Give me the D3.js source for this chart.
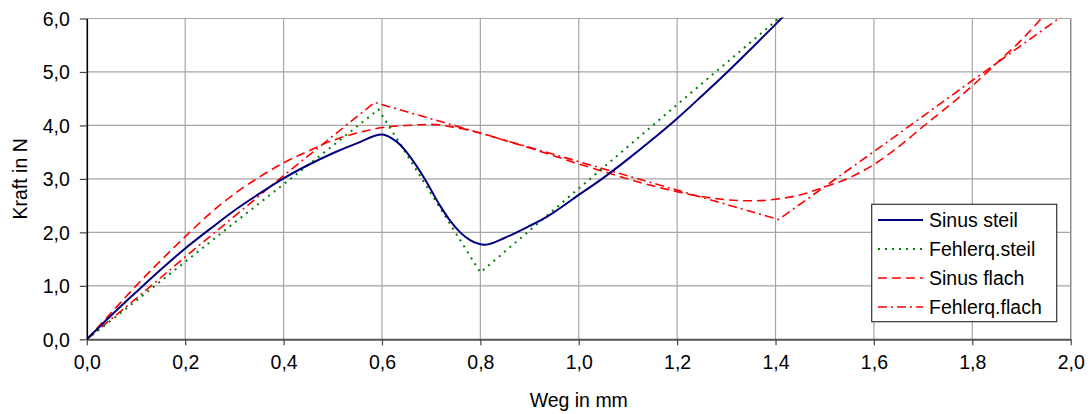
<!DOCTYPE html>
<html><head><meta charset="utf-8">
<script src="https://cdn.jsdelivr.net/npm/d3@7"></script>
<style>body{margin:0;background:#fff}svg{display:block}text{font-family:"Liberation Sans",Arial,sans-serif}</style>
</head><body>
<svg id="c" width="1090" height="414"></svg>
<script>
const xTicks = [0,0.2,0.4,0.6,0.8,1.0,1.2,1.4,1.6,1.8,2.0];
const yTicks = [0,1,2,3,4,5,6];
const seriesNames = ["Sinus steil","Fehlerq.steil","Sinus flach","Fehlerq.flach"];

const sinusSteilX = [0,0.05,0.1,0.15,0.2,0.25,0.3,0.35,0.4,0.45,0.5,0.55,0.6,0.62,0.637,0.65,0.687,0.718,0.74,0.759,0.78,0.81,0.85,0.9,0.935,1.0,1.05,1.1,1.15,1.2,1.25,1.3,1.35,1.4,1.45];
const sinusSteilY = [0,0.45,0.88,1.3,1.7,2.06,2.41,2.72,3.01,3.26,3.48,3.67,3.83,3.76,3.64,3.5,3.0,2.5,2.2,2.0,1.85,1.77,1.9,2.12,2.29,2.7,3.02,3.37,3.74,4.13,4.55,4.98,5.43,5.89,6.36];

const fehlerSteilX = [0,0.1,0.2,0.3,0.4,0.5,0.593,0.8,1.0,1.2,1.4,1.45];
const fehlerSteilY = [0,0.72,1.45,2.18,2.9,3.62,4.3,1.25,2.82,4.39,5.95,6.35];

const sinusFlachX = [0,0.05,0.1,0.15,0.2,0.25,0.3,0.35,0.4,0.45,0.5,0.55,0.6,0.65,0.7,0.75,0.8,0.85,0.9,0.95,1.0,1.05,1.1,1.15,1.2,1.25,1.3,1.35,1.4,1.45,1.5,1.55,1.6,1.65,1.7,1.75,1.8,1.85,1.9,1.95,2.0];
const sinusFlachY = [0,0.5,1.0,1.47,1.92,2.35,2.72,3.03,3.3,3.52,3.72,3.86,3.96,4.0,4.02,3.96,3.86,3.72,3.58,3.43,3.28,3.14,3.0,2.87,2.76,2.67,2.61,2.59,2.62,2.7,2.85,3.02,3.27,3.6,3.98,4.35,4.74,5.17,5.6,6.1,6.6];

const fehlerFlachX = [0,0.1,0.2,0.3,0.4,0.5,0.585,1.406,1.6,1.8,2.0];
const fehlerFlachY = [0,0.76,1.54,2.3,3.06,3.8,4.43,2.24,3.51,4.84,6.16];

const svg = d3.select("#c");
const L = 86.8, R = 1070.7, T = 18.5, B = 339.3;
const x = d3.scaleLinear().domain([0,2]).range([L,R]);
const y = d3.scaleLinear().domain([0,6]).range([B,T]);
const fmt = d => d3.format(".1f")(d).replace(".", ",");

// grid
const g = svg.append("g");
g.selectAll(".vg").data(xTicks.slice(1)).join("line")
  .attr("x1",d=>x(d)).attr("x2",d=>x(d)).attr("y1",T).attr("y2",B)
  .attr("stroke","#a6a6a6").attr("stroke-width",1.2);
g.selectAll(".hg").data(yTicks.slice(1)).join("line")
  .attr("x1",L).attr("x2",R).attr("y1",d=>y(d)).attr("y2",d=>y(d))
  .attr("stroke","#a6a6a6").attr("stroke-width",1.2);
g.append("line").attr("x1",R).attr("x2",R).attr("y1",T).attr("y2",B).attr("stroke","#888").attr("stroke-width",1.2);

svg.append("clipPath").attr("id","clip").append("rect").attr("x",L).attr("y",T-1).attr("width",R-L+1).attr("height",B-T+1);

const line = d3.line().x(d=>x(d[0])).y(d=>y(d[1]));
const lineSmooth = d3.line().x(d=>x(d[0])).y(d=>y(d[1])).curve(d3.curveMonotoneX);
const zip = (a,b) => a.map((v,i)=>[v,b[i]]);

const styles = [
  {stroke:"#000080", dash:null, w:2, gen:lineSmooth, data:zip(sinusSteilX,sinusSteilY)},
  {stroke:"#008000", dash:"2,5", w:2, gen:line, data:zip(fehlerSteilX,fehlerSteilY)},
  {stroke:"#ff0000", dash:"9,5", w:1.6, gen:lineSmooth, data:zip(sinusFlachX,sinusFlachY)},
  {stroke:"#ff0000", dash:"9,4,2,4", w:1.6, gen:line, data:zip(fehlerFlachX,fehlerFlachY)}
];
const pg = svg.append("g").attr("clip-path","url(#clip)");
[3,2,1,0].forEach(i=>{
  const s = styles[i];
  pg.append("path").attr("d", s.gen(s.data)).attr("fill","none")
    .attr("stroke",s.stroke).attr("stroke-width",s.w)
    .attr("stroke-dasharray",s.dash);
});

const xAxis = d3.axisBottom(x).tickValues(xTicks).tickFormat(fmt).tickSize(6).tickSizeOuter(0).tickPadding(10);
const yAxis = d3.axisLeft(y).tickValues(yTicks).tickFormat(fmt).tickSize(7).tickSizeOuter(0).tickPadding(10);
const xa = svg.append("g").attr("transform",`translate(0,${B})`).call(xAxis);
const ya = svg.append("g").attr("transform",`translate(${L},0)`).call(yAxis);
[xa,ya].forEach(a=>{
  a.selectAll("text").attr("font-size",19.5).attr("fill","#000").attr("font-family","Liberation Sans, Arial, sans-serif");
  a.select(".domain").attr("stroke","#000").attr("stroke-width",1.6);
  a.selectAll(".tick line").attr("stroke","#444").attr("stroke-width",1.2);
});
xa.select(".domain").attr("stroke","#555").attr("stroke-width",2);
ya.selectAll("text").attr("dy","0.36em");

svg.append("text").attr("x",(L+R)/2).attr("y",407).attr("text-anchor","middle")
  .attr("font-size",19.5).text("Weg in mm");
svg.append("text").attr("transform",`translate(27,${(T+B)/2}) rotate(-90)`).attr("text-anchor","middle")
  .attr("font-size",19.5).text("Kraft in N");

const lg = svg.append("g");
lg.append("rect").attr("x",871.7).attr("y",204.3).attr("width",185).attr("height",117.4)
  .attr("fill","#fff").attr("stroke","#333").attr("stroke-width",1.2);
seriesNames.forEach((n,i)=>{
  const yy = 220 + i*29;
  const s = styles[i];
  lg.append("line").attr("x1",878).attr("x2",923).attr("y1",yy).attr("y2",yy)
    .attr("stroke",s.stroke).attr("stroke-width",s.w).attr("stroke-dasharray",s.dash);
  lg.append("text").attr("x",929).attr("y",yy).attr("dy","0.36em").attr("font-size",19.5).text(n);
});
</script>
</body></html>
